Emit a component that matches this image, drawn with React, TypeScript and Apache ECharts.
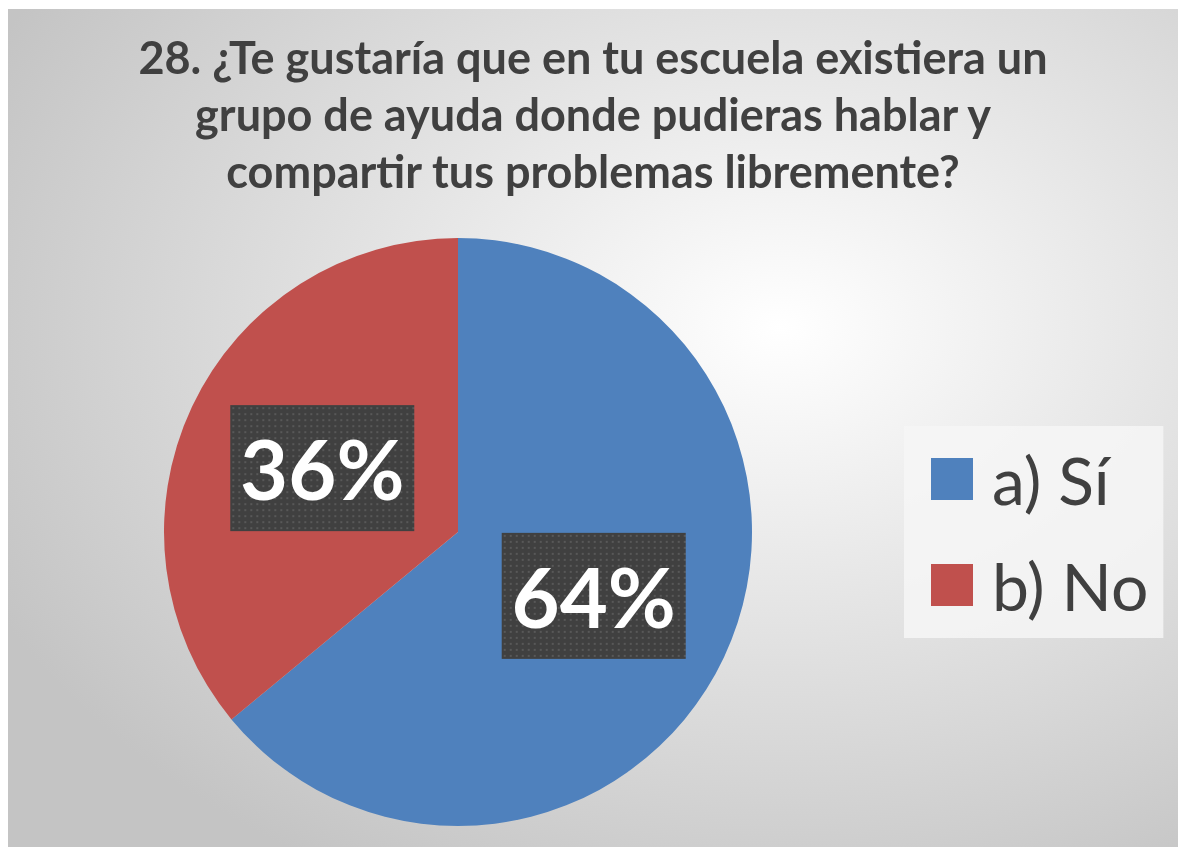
import React, { useEffect, useRef } from "react";
import * as echarts from "echarts";

const titleLines = [
  "28. ¿Te gustaría que en tu escuela existiera un",
  "grupo de ayuda donde pudieras hablar y",
  "compartir tus problemas libremente?",
];
const categories = ["a) Sí", "b) No"];
const values = [64, 36];
const colors = ["#4f81bd", "#c0504d"];

function makeDots(): string {
  const c = document.createElement("canvas");
  c.width = 184;
  c.height = 126;
  const ctx = c.getContext("2d");
  if (!ctx) return "";
  ctx.fillStyle = "#404040";
  ctx.fillRect(0, 0, c.width, c.height);
  ctx.fillStyle = "#585858";
  for (let y = 2; y < c.height; y += 6) {
    for (let x = 2; x < c.width; x += 6) {
      ctx.fillRect(x, y, 2, 2);
    }
  }
  return c.toDataURL();
}

export default function App() {
  const ref = useRef<HTMLDivElement>(null);
  useEffect(() => {
    if (!ref.current) return;
    const chart = echarts.init(ref.current, null, { renderer: "svg" });
    const dots = makeDots();
    chart.setOption({
      animation: false,
      backgroundColor: {
        type: "radial",
        x: 0.66,
        y: 0.38,
        r: 0.75,
        colorStops: [
          { offset: 0, color: "#ffffff" },
          { offset: 1, color: "#c4c4c4" },
        ],
      },
      title: {
        text: titleLines.join("\n"),
        left: "center",
        top: 14,
        textStyle: {
          fontFamily: "Lato",
          fontWeight: "bold",
          fontSize: 45,
          lineHeight: 57,
          color: "#404040",
        },
      },
      legend: {
        orient: "vertical",
        left: 896,
        top: 417,
        data: categories,
        icon: "rect",
        itemWidth: 42,
        itemHeight: 42,
        itemGap: 34,
        padding: [17, 15, 17, 27],
        backgroundColor: "rgba(246,246,246,0.85)",
        textStyle: {
          fontFamily: "Lato",
          fontSize: 66,
          lineHeight: 72,
          color: "#404040",
          padding: [0, 0, 0, 14],
        },
      },
      series: [
        {
          type: "pie",
          center: [450, 523],
          radius: 294,
          startAngle: 90,
          clockwise: true,
          data: categories.map((name, i) => ({
            name,
            value: values[i],
            itemStyle: { color: colors[i] },
          })),
          label: {
            show: true,
            position: "inside",
            formatter: "{c}%",
            fontFamily: "Lato",
            fontWeight: "bold",
            fontSize: 83,
            lineHeight: 100,
            color: "#ffffff",
            backgroundColor: dots ? { image: dots } : "#404040",
            padding: [13, 14],
            shadowColor: "rgba(0,0,0,0.55)",
            shadowBlur: 6,
            shadowOffsetX: 3,
            shadowOffsetY: 4,
          },
          labelLine: { show: false },
          emphasis: { disabled: true },
        },
      ],
    });
    return () => chart.dispose();
  }, []);
  return (
    <div
      ref={ref}
      style={{ position: "fixed", left: 8, top: 9, width: 1170, height: 838 }}
    />
  );
}
